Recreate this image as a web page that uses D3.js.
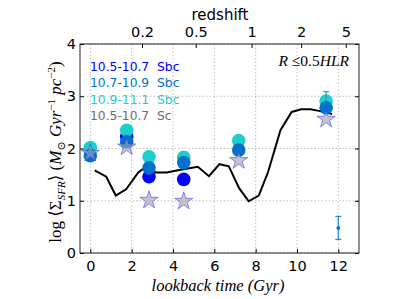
<!DOCTYPE html>
<html>
<head>
<meta charset="utf-8">
<script src="https://cdn.jsdelivr.net/npm/d3@7"></script>
<style>
  body { margin: 0; background: #fff; }
  svg { display: block; }
</style>
</head>
<body>
<div id="chart"></div>
<script>
// lookback times of the galaxy bins (Gyr)
var tiempos = [0, 1.76, 2.84, 4.52, 7.18, 11.41];
var azul = [null, 2.23, 1.46, 1.41, null, null];     // 10.5-10.7 Sbc
var cian = [2.02, 2.35, 1.84, 1.83, 2.15, 2.91];     // 10.9-11.1 Sbc
var medio = [1.86, 2.13, 1.63, 1.73, 1.97, 2.78];    // 10.7-10.9 Sbc
var estrellas = [1.91, 2.03, 1.01, 0.99, 1.77, 2.56]; // 10.5-10.7 Sc

// black curve
var lineaT = [0.21, 0.77, 1.23, 1.73, 2.32, 2.8, 3.15, 3.7, 4.3, 5.2, 5.74, 6.25, 6.7, 7.2, 7.66, 8.15, 8.6, 9.2, 9.74, 10.2, 10.66, 11.06, 11.7];
var lineaV = [1.58, 1.46, 1.10, 1.22, 1.54, 1.68, 1.54, 1.54, 1.59, 1.65, 1.47, 1.70, 1.66, 1.24, 0.99, 1.10, 1.55, 2.35, 2.70, 2.75, 2.75, 2.72, 2.66];

var ticksX = [0, 2, 4, 6, 8, 10, 12];
var ticksY = [0, 1, 2, 3, 4];
var redshifts = ["0.2", "0.5", "1", "2", "5"];
var redshiftT = [2.5, 5.1, 7.8, 10.2, 12.36];

var leyenda = ["10.5-10.7  Sbc", "10.7-10.9  Sbc", "10.9-11.1  Sbc", "10.5-10.7  Sc"];
var colores = ["#0000ff", "#0072cc", "#1ccfcf", "#6e6e6e"];

var W = 399, H = 299;
var m = {left: 80, right: 40, top: 44, bottom: 46};

var svg = d3.select("#chart").append("svg").attr("width", W).attr("height", H);

var x = d3.scaleLinear().domain([-0.5, 13]).range([m.left, W - m.right]);
var y = d3.scaleLinear().domain([0, 4]).range([H - m.bottom, m.top]);

// grid
var grid = svg.append("g");
grid.selectAll("line.gx").data(ticksX).join("line")
  .attr("x1", d => x(d)).attr("x2", d => x(d))
  .attr("y1", y(4)).attr("y2", y(0))
  .attr("stroke", "#b0b0b0").attr("stroke-dasharray", "1.5,2").attr("stroke-width", 0.8);
grid.selectAll("line.gy").data(ticksY).join("line")
  .attr("y1", d => y(d)).attr("y2", d => y(d))
  .attr("x1", x(-0.5)).attr("x2", x(13))
  .attr("stroke", "#b0b0b0").attr("stroke-dasharray", "1.5,2").attr("stroke-width", 0.8);

// axes
var fuente = "DejaVu Sans, sans-serif";
var ejeX = svg.append("g").attr("transform", "translate(0," + y(0) + ")")
  .call(d3.axisBottom(x).tickValues(ticksX).tickFormat(d3.format("d")).tickSizeInner(-4).tickSizeOuter(0).tickPadding(8));
var ejeY = svg.append("g").attr("transform", "translate(" + x(-0.5) + ",0)")
  .call(d3.axisLeft(y).tickValues(ticksY).tickFormat(d3.format("d")).tickSizeInner(-4).tickSizeOuter(0).tickPadding(4));
var ejeTop = svg.append("g").attr("transform", "translate(0," + y(4) + ")")
  .call(d3.axisTop(x).tickValues(redshiftT).tickFormat((d, i) => redshifts[i]).tickSizeInner(-4).tickSizeOuter(0).tickPadding(7));
var ejeR = svg.append("g").attr("transform", "translate(" + x(13) + ",0)")
  .call(d3.axisRight(y).tickValues(ticksY).tickFormat("").tickSizeInner(-4).tickSizeOuter(0));
[ejeX, ejeY, ejeTop, ejeR].forEach(function(g){
  g.select(".domain").remove();
  g.selectAll("text").attr("font-family", fuente).attr("font-size", 14.5).attr("fill", "#000");
  g.selectAll("line").attr("stroke", "#000");
});

svg.append("rect")
  .attr("x", x(-0.5)).attr("y", y(4))
  .attr("width", x(13) - x(-0.5)).attr("height", y(0) - y(4))
  .attr("fill", "none").attr("stroke", "#222").attr("stroke-width", 1);

// black line
var linea = d3.line().x(d => x(d[0])).y(d => y(d[1]));
svg.append("path")
  .datum(lineaT.map((t, i) => [t, lineaV[i]]))
  .attr("d", linea).attr("fill", "none").attr("stroke", "#000").attr("stroke-width", 2);

// circles
function graficarPuntos(vals, color) {
  svg.append("g").selectAll("circle")
    .data(tiempos.map((t, i) => [t, vals[i]]).filter(d => d[1] != null))
    .join("circle")
    .attr("cx", d => x(d[0])).attr("cy", d => y(d[1]))
    .attr("r", 6.8).attr("fill", color);
}
graficarPuntos(azul, colores[0]);
graficarPuntos(cian, colores[2]);

// error bar on the last cyan point
svg.append("line")
  .attr("x1", x(11.41)).attr("x2", x(11.41))
  .attr("y1", y(3.09)).attr("y2", y(2.62))
  .attr("stroke", "#2aa6c6").attr("stroke-width", 1.3);
svg.append("line")
  .attr("x1", x(11.41) - 3).attr("x2", x(11.41) + 3)
  .attr("y1", y(3.09)).attr("y2", y(3.09))
  .attr("stroke", "#2aa6c6").attr("stroke-width", 1.3);

graficarPuntos(medio, colores[1]);

// stars
function estrella(R) {
  var r = R * 0.382, pts = [];
  for (var k = 0; k < 10; k++) {
    var a = -Math.PI / 2 + k * Math.PI / 5;
    var rr = k % 2 === 0 ? R : r;
    pts.push([rr * Math.cos(a), rr * Math.sin(a)]);
  }
  return "M" + pts.map(p => p[0].toFixed(2) + "," + p[1].toFixed(2)).join("L") + "Z";
}
svg.append("g").selectAll("path")
  .data(tiempos.map((t, i) => [t, estrellas[i]]))
  .join("path")
  .attr("transform", d => "translate(" + x(d[0]) + "," + y(d[1]) + ")")
  .attr("d", estrella(9.5))
  .attr("fill", "#a2a2a8").attr("fill-opacity", 0.62)
  .attr("stroke", "#2a2aff").attr("stroke-opacity", 0.5).attr("stroke-width", 1);

// typical error bar, bottom right
var errT = 12, errV = 0.48, errLo = 0.26, errHi = 0.7;
var ge = svg.append("g").attr("stroke", "#2b8ad6").attr("stroke-width", 1.3);
ge.append("line").attr("x1", x(errT)).attr("x2", x(errT)).attr("y1", y(errLo)).attr("y2", y(errHi));
ge.append("line").attr("x1", x(errT) - 3).attr("x2", x(errT) + 3).attr("y1", y(errLo)).attr("y2", y(errLo));
ge.append("line").attr("x1", x(errT) - 3).attr("x2", x(errT) + 3).attr("y1", y(errHi)).attr("y2", y(errHi));
svg.append("circle").attr("cx", x(errT)).attr("cy", y(errV)).attr("r", 2).attr("fill", "#1f6fc0");

// legend text
svg.append("g").selectAll("text").data(leyenda).join("text")
  .attr("x", 90).attr("y", (d, i) => 71 + i * 16.3)
  .attr("font-family", fuente).attr("font-size", 12.3)
  .attr("fill", (d, i) => colores[i])
  .attr("xml:space", "preserve")
  .text(d => d);

// R <= 0.5 HLR
var serif = "Liberation Serif, DejaVu Serif, serif";
var rt = svg.append("text").attr("x", 349).attr("y", 66).attr("text-anchor", "end")
  .attr("font-family", serif).attr("font-size", 15.5);
rt.append("tspan").attr("font-style", "italic").text("R");
rt.append("tspan").text(" ≤0.5");
rt.append("tspan").attr("font-style", "italic").text("HLR");

// top label
svg.append("text").attr("x", 220).attr("y", 20).attr("text-anchor", "middle")
  .attr("font-family", fuente).attr("font-size", 15).text("redshift");

// bottom label
svg.append("text").attr("x", 218).attr("y", 291).attr("text-anchor", "middle")
  .attr("font-family", serif).attr("font-size", 16.5).attr("font-style", "italic")
  .text("lookback time (Gyr)");

// y label
var yl = svg.append("text")
  .attr("transform", "translate(61,152) rotate(-90)")
  .attr("text-anchor", "middle")
  .attr("font-family", serif).attr("font-size", 17);
yl.append("tspan").text("log ⟨Σ");
yl.append("tspan").attr("font-style", "italic").attr("font-size", 11).attr("dy", 4).text("SFR");
yl.append("tspan").attr("dy", -4).text("⟩ (");
yl.append("tspan").attr("font-style", "italic").text("M");
yl.append("tspan").attr("font-size", 11).attr("dy", 4).text("⊙");
yl.append("tspan").attr("dy", -4).attr("font-style", "italic").text(" Gyr");
yl.append("tspan").attr("font-size", 11).attr("dy", -6).text("−1");
yl.append("tspan").attr("dy", 6).attr("font-style", "italic").text(" pc");
yl.append("tspan").attr("font-size", 11).attr("dy", -6).text("−2");
yl.append("tspan").attr("dy", 6).text(")");
</script>
</body>
</html>
